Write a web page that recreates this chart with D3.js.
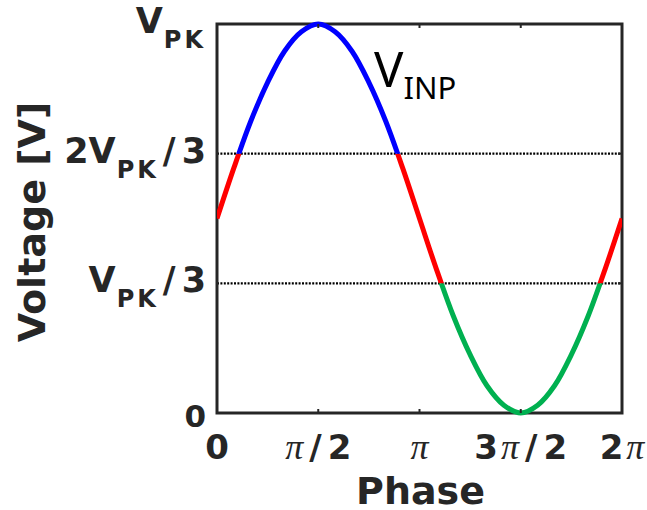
<!DOCTYPE html>
<html>
<head>
    <title>Input Voltage vs Phase</title>
    <style>
        body { margin: 0; background: #fff; }
        .tick-b { font-family: "DejaVu Sans", sans-serif; font-weight: bold; fill: #262626; }
        .tick-pi { font-family: "Liberation Serif", serif; font-style: italic; font-weight: normal; fill: #262626; }
        .axis-label { font-family: "DejaVu Sans", sans-serif; font-weight: bold; fill: #262626; }
    </style>
</head>
<body>
<div id="chart"></div>
<script src="https://d3js.org/d3.v7.min.js"></script>
<script>
    // phase samples (multiples of pi/12) and voltage, in units of V_PK
    var phaseSteps = [0, 1, 2, 3, 4, 5, 6, 7, 8, 9, 10, 11, 12, 13, 14, 15, 16, 17, 18, 19, 20, 21, 22, 23, 24];
    var voltage = [0.50, 0.63, 0.75, 0.85, 0.93, 0.98, 1.00, 0.98, 0.93, 0.85, 0.75, 0.63, 0.50,
                   0.37, 0.25, 0.15, 0.07, 0.02, 0.00, 0.02, 0.07, 0.15, 0.25, 0.37, 0.50];

    // band limits (dotted lines) and band colours
    var thresholds = [1 / 3, 2 / 3];
    var bandLimits = [[-0.1, 1 / 3], [1 / 3, 2 / 3], [2 / 3, 1.1]];
    var bandColors = ["#00b050", "#ff0000", "#0000ff"];

    // ticks, labels written TeX-like: _{..} is a subscript
    var xTicks = [0, Math.PI / 2, Math.PI, 3 * Math.PI / 2, 2 * Math.PI];
    var xTickLabels = ["0", "\u03c0/2", "\u03c0", "3\u03c0/2", "2\u03c0"];
    var yTicks = [0, 1 / 3, 2 / 3, 1];
    var yTickLabels = ["0", "V_{PK}/3", "2V_{PK}/3", "V_{PK}"];

    var width = 647, height = 510;
    var plotLeft = 217, plotRight = 622, plotTop = 24, plotBottom = 413;

    var x = d3.scaleLinear().domain([0, 2 * Math.PI]).range([plotLeft, plotRight]);
    var y = d3.scaleLinear().domain([0, 1]).range([plotBottom, plotTop]);

    var svg = d3.select("#chart").append("svg")
        .attr("width", width)
        .attr("height", height)
        .style("background", "#fff");

    var data = phaseSteps.map(function(k, i) {
        return { phase: k * Math.PI / 12, v: voltage[i] };
    });

    // split a label into pieces: subscript, pi, slash, plain text
    function tokens(label) {
        var re = /_\{([^}]*)\}|\u03c0|\/|[^_\u03c0\/]+/g, m, out = [];
        while ((m = re.exec(label)) !== null) {
            if (m[1] !== undefined) out.push({ t: m[1], kind: "sub" });
            else if (m[0] == "\u03c0") out.push({ t: m[0], kind: "pi" });
            else if (m[0] == "/") out.push({ t: m[0], kind: "slash" });
            else out.push({ t: m[0], kind: "text" });
        }
        return out;
    }

    // dotted reference lines
    svg.selectAll(".ref")
        .data(thresholds)
        .enter().append("line")
        .attr("x1", plotLeft).attr("x2", plotRight)
        .attr("y1", function(d) { return y(d); })
        .attr("y2", function(d) { return y(d); })
        .attr("stroke", "#000")
        .attr("stroke-width", 2.2)
        .attr("stroke-dasharray", "2,1.4");

    // axes box
    svg.append("rect")
        .attr("x", plotLeft).attr("y", plotTop)
        .attr("width", plotRight - plotLeft).attr("height", plotBottom - plotTop)
        .attr("fill", "none")
        .attr("stroke", "#262626")
        .attr("stroke-width", 3);

    // the curve, clipped into three colour bands
    var line = d3.line()
        .x(function(d) { return x(d.phase); })
        .y(function(d) { return y(d.v); })
        .curve(d3.curveCatmullRom.alpha(0.5));

    var defs = svg.append("defs");
    bandLimits.forEach(function(b, i) {
        defs.append("clipPath").attr("id", "band" + i)
            .append("rect")
            .attr("x", x(0)).attr("width", x(2 * Math.PI) - x(0))
            .attr("y", y(b[1])).attr("height", y(b[0]) - y(b[1]));
        svg.append("path")
            .datum(data)
            .attr("clip-path", "url(#band" + i + ")")
            .attr("fill", "none")
            .attr("stroke", bandColors[i])
            .attr("stroke-width", 5)
            .attr("d", line);
    });

    // small inward ticks
    xTicks.slice(1, 4).forEach(function(t) {
        svg.append("line").attr("x1", x(t)).attr("x2", x(t))
            .attr("y1", plotBottom).attr("y2", plotBottom - 4)
            .attr("stroke", "#262626").attr("stroke-width", 2);
        svg.append("line").attr("x1", x(t)).attr("x2", x(t))
            .attr("y1", plotTop).attr("y2", plotTop + 4)
            .attr("stroke", "#262626").attr("stroke-width", 2);
    });
    yTicks.slice(1, 3).forEach(function(t) {
        svg.append("line").attr("x1", plotRight).attr("x2", plotRight - 4)
            .attr("y1", y(t)).attr("y2", y(t))
            .attr("stroke", "#262626").attr("stroke-width", 2);
    });

    // x tick labels
    xTicks.forEach(function(t, i) {
        var txt = svg.append("text")
            .attr("x", x(t))
            .attr("y", 459)
            .attr("text-anchor", "middle");
        var prev = null;
        tokens(xTickLabels[i]).forEach(function(p) {
            var ts = txt.append("tspan")
                .attr("class", p.kind == "pi" ? "tick-pi" : "tick-b")
                .style("font-size", p.kind == "pi" ? "36px" : "34px")
                .text(p.t);
            if (p.kind == "slash" || (prev && prev.kind == "slash")) ts.attr("dx", 6);
            else if (prev) ts.attr("dx", 3);
            prev = p;
        });
    });

    // y tick labels
    yTicks.forEach(function(t, i) {
        var parts = tokens(yTickLabels[i]);
        var hasSub = parts.length > 1;
        var txt = svg.append("text")
            .attr("class", "tick-b")
            .attr("x", 206)
            .attr("y", y(t) + (hasSub ? 9 : 14))
            .attr("text-anchor", "end")
            .style("font-size", hasSub ? "35px" : "31px");
        var prev = null;
        parts.forEach(function(p) {
            var ts = txt.append("tspan").text(p.t);
            if (p.kind == "sub") {
                ts.attr("dy", 15).attr("dx", 1)
                    .style("font-size", "24px")
                    .style("letter-spacing", "3px");
            } else if (prev && prev.kind == "sub") {
                ts.attr("dy", -15);
            }
            if (p.kind == "slash") ts.attr("dx", 4);
            else if (prev && prev.kind == "slash") ts.attr("dx", 6);
            prev = p;
        });
    });

    // axis titles
    svg.append("text")
        .attr("class", "axis-label")
        .attr("x", (plotLeft + plotRight) / 2 + 1)
        .attr("y", 504)
        .attr("text-anchor", "middle")
        .style("font-size", "38px")
        .text("Phase");

    svg.append("text")
        .attr("class", "axis-label")
        .attr("transform", "translate(45," + 222 + ") rotate(-90)")
        .attr("text-anchor", "middle")
        .style("font-size", "38px")
        .text("Voltage [V]");

    // curve annotation
    var ann = svg.append("text")
        .attr("x", 374)
        .attr("y", 87)
        .style("font-family", "'Noto Sans', sans-serif")
        .style("font-size", "49px")
        .attr("fill", "#000");
    ann.append("tspan").text("V");
    ann.append("tspan").attr("dy", 12).style("font-size", "31px").text("INP");
</script>
</body>
</html>
